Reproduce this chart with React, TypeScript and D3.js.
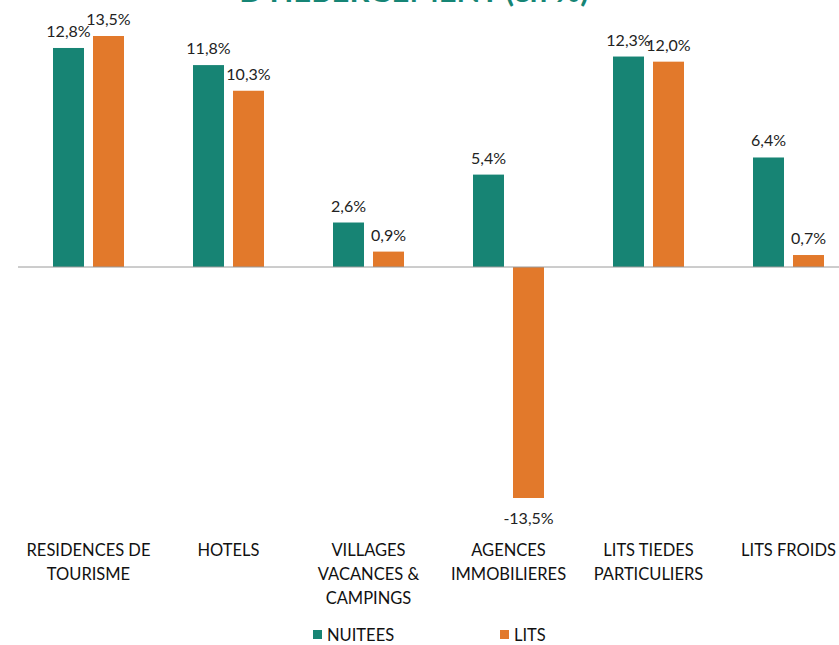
import React from "react";
import * as d3 from "d3";

const categories: string[][] = [
  ["RESIDENCES DE", "TOURISME"],
  ["HOTELS"],
  ["VILLAGES", "VACANCES &", "CAMPINGS"],
  ["AGENCES", "IMMOBILIERES"],
  ["LITS TIEDES", "PARTICULIERS"],
  ["LITS FROIDS"],
];
const nuitees = [12.8, 11.8, 2.6, 5.4, 12.3, 6.4];
const lits = [13.5, 10.3, 0.9, -13.5, 12.0, 0.7];
const seriesNames = ["NUITEES", "LITS"];
const colors = ["#178474", "#E2792B"];
const title = "D'HEBERGEMENT (en %)";

const W = 839;
const H = 645;
const FONT = "Lato, 'Open Sans', sans-serif";

export default function App() {
  const x0 = d3
    .scaleBand<number>()
    .domain(d3.range(categories.length))
    .range([18.5, 18.5 + 140 * categories.length])
    .paddingInner(0)
    .paddingOuter(0);
  const x1 = d3.scaleBand<number>().domain([0, 1]).range([-35.5, 35.5]).paddingInner(9 / 40).paddingOuter(0);
  const y = d3.scaleLinear().domain([0, 13.5]).range([267, 36]);
  const fmt = (v: number) => v.toFixed(1).replace(".", ",") + "%";
  const series = [nuitees, lits];

  return (
    <svg width={W} height={H} style={{ position: "absolute", left: 0, top: 0, background: "#fff" }} fontFamily={FONT}>
      <text x={414} y={2} textAnchor="middle" fontSize={31} fontWeight={700} fill="#168575">
        {title}
      </text>
      {categories.map((c, i) => {
        const cx = (x0(i) as number) + x0.bandwidth() / 2;
        return (
          <g key={i}>
            {series.map((s, j) => {
              const v = s[i];
              const bx = cx + (x1(j) as number);
              const bw = x1.bandwidth();
              const top = Math.min(y(v), y(0));
              const h = Math.abs(y(v) - y(0));
              return (
                <g key={j}>
                  <rect x={bx} y={top} width={bw} height={h} fill={colors[j]} />
                  <text
                    x={bx + bw / 2}
                    y={v >= 0 ? y(v) - 11 : y(v) + 26}
                    textAnchor="middle"
                    fontSize={16}
                    fill="#222"
                  >
                    {fmt(v)}
                  </text>
                </g>
              );
            })}
            {c.map((line, k) => (
              <text key={k} x={cx} y={556 + k * 24} textAnchor="middle" fontSize={16.5} fill="#111">
                {line}
              </text>
            ))}
          </g>
        );
      })}
      <line x1={18} x2={W} y1={y(0)} y2={y(0)} stroke="#9a9a9a" strokeWidth={1} />
      {seriesNames.map((n, j) => {
        const lx = j === 0 ? 313 : 500;
        return (
          <g key={n}>
            <rect x={lx} y={630} width={9} height={9} fill={colors[j]} />
            <text x={lx + 14} y={641} fontSize={16.5} fill="#111">
              {n}
            </text>
          </g>
        );
      })}
    </svg>
  );
}
